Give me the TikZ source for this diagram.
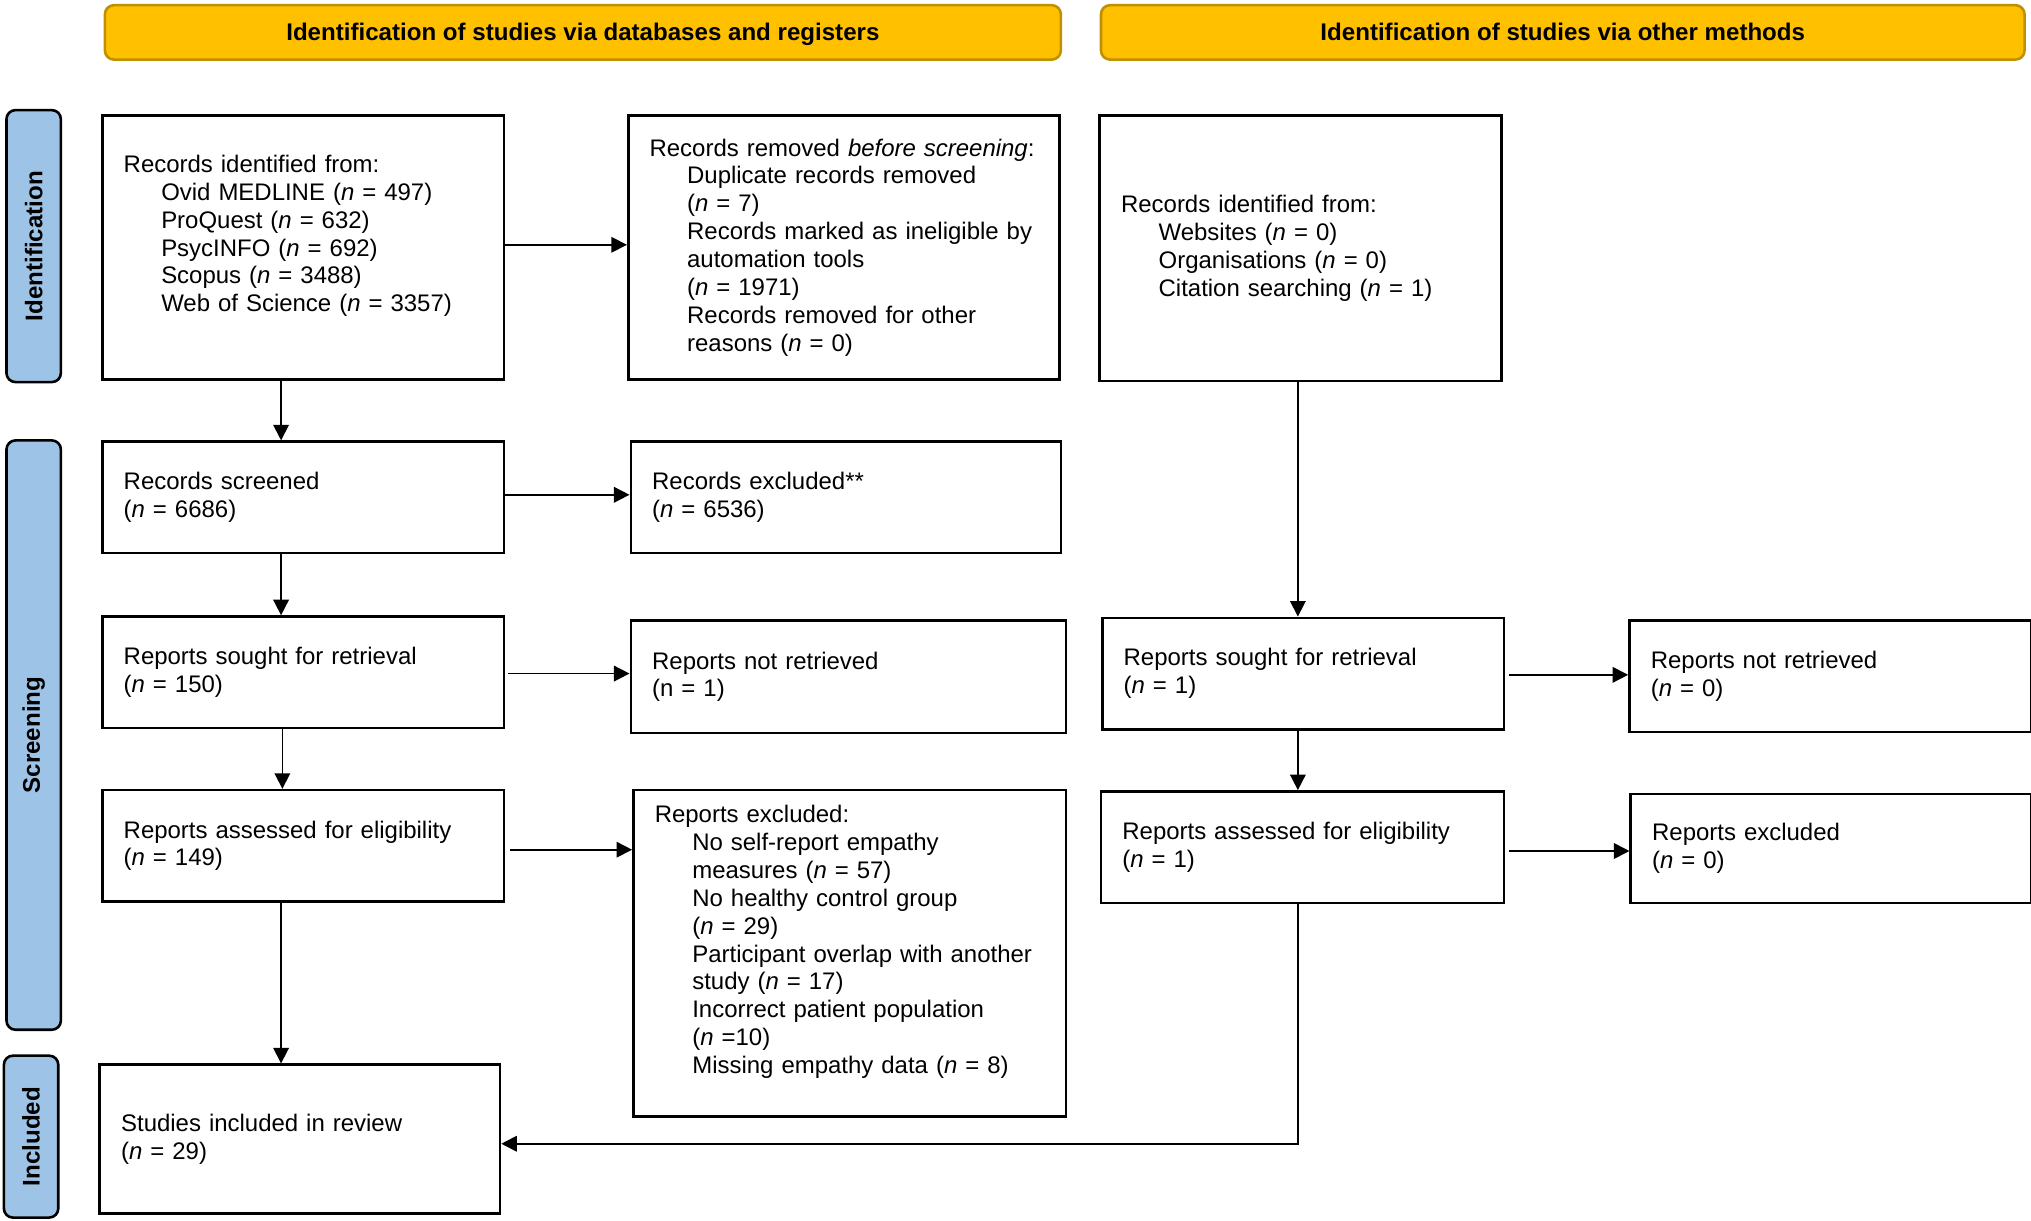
\documentclass[tikz,border=0pt]{standalone}
\usepackage{fontspec}
\setmainfont{Liberation Sans}
\usetikzlibrary{arrows.meta}
\definecolor{hdrfill}{HTML}{FFC000}
\definecolor{hdrline}{HTML}{BF9000}
\definecolor{sidefill}{HTML}{9DC3E6}
\newcommand{\ind}{\hspace*{29pt}}
\newcommand{\nn}{\textit{n}}
\tikzset{
  basefont/.style={font=\fontsize{18.5}{21.5}\selectfont},
  box/.style={basefont, draw=black, line width=2pt, fill=white, rectangle, anchor=north west,
    align=left, inner xsep=16.5pt, inner ysep=2pt},
  hdr/.style={font=\fontsize{18.6}{21.5}\selectfont\bfseries, draw=hdrline, fill=hdrfill,
    line width=2pt, rounded corners=7pt, anchor=north west, align=center, text depth=1pt},
  sidebar/.style={font=\fontsize{18.6}{21.5}\selectfont\bfseries, draw=black, fill=sidefill,
    line width=2pt, rounded corners=7pt, rotate=90, inner sep=0pt},
  arr/.style={line width=1.3pt, -{Triangle[length=12pt,width=12pt]}}
}
\begin{document}
\begin{tikzpicture}[x=1pt,y=-1pt]
\useasboundingbox (0,0) rectangle (1568,942);

% headers
\node[hdr, minimum width=738pt, minimum height=42pt] (hdrA) at (80,3)
  {Identification of studies via databases and registers};
\node[hdr, minimum width=713pt, minimum height=42pt] (hdrB) at (849,3)
  {Identification of studies via other methods};

% side bars
\node[sidebar, minimum width=210pt, minimum height=42pt] (sideI) at (26,190) {Identification};
\node[sidebar, minimum width=455pt, minimum height=42pt] (sideS) at (26,567.5) {Screening};
\node[sidebar, minimum width=125pt, minimum height=42pt] (sideN) at (24,877.5) {Included};

% left column
\node[box, minimum width=310pt, minimum height=204pt, text width=277pt] (A) at (78,88)
  {Records identified from:\\
   \ind Ovid MEDLINE (\nn{} = 497)\\
   \ind ProQuest (\nn{} = 632)\\
   \ind PsycINFO (\nn{} = 692)\\
   \ind Scopus (\nn{} = 3488)\\
   \ind Web of Science (\nn{} = 3357)\\
   \mbox{}};
\node[box, minimum width=333pt, minimum height=204pt, text width=300pt] (B) at (484,88)
  {Records removed \textit{before screening}:\\
   \ind Duplicate records removed\\
   \ind (\nn{} = 7)\\
   \ind Records marked as ineligible by\\
   \ind automation tools\\
   \ind (\nn{} = 1971)\\
   \ind Records removed for other\\
   \ind reasons (\nn{} = 0)};
\node[box, minimum width=310pt, minimum height=86pt, text width=277pt] (D) at (78,340)
  {Records screened\\(\nn{} = 6686)};
\node[box, minimum width=332pt, minimum height=86pt, text width=299pt] (E) at (486,340)
  {Records excluded**\\(\nn{} = 6536)};
\node[box, minimum width=310pt, minimum height=86pt, text width=277pt] (F) at (78,475)
  {Reports sought for retrieval\\(\nn{} = 150)};
\node[box, minimum width=336pt, minimum height=87pt, text width=303pt] (G) at (486,478)
  {Reports not retrieved\\(n = 1)};
\node[box, minimum width=310pt, minimum height=86pt, text width=277pt] (H) at (78,609)
  {Reports assessed for eligibility\\(\nn{} = 149)};
\node[box, minimum width=334pt, minimum height=252pt, text width=301pt] (I) at (488,609)
  {Reports excluded:\\
   \ind No self-report empathy\\
   \ind measures (\nn{} = 57)\\
   \ind No healthy control group\\
   \ind (\nn{} = 29)\\
   \ind Participant overlap with another\\
   \ind study (\nn{} = 17)\\
   \ind Incorrect patient population\\
   \ind (\nn{} =10)\\
   \ind Missing empathy data (\nn{} = 8)\\
   \mbox{}};
\node[box, minimum width=309pt, minimum height=115pt, text width=276pt] (N) at (76,821)
  {Studies included in review\\(\nn{} = 29)};

% right column
\node[box, minimum width=310pt, minimum height=205pt, text width=277pt] (C) at (848,88)
  {Records identified from:\\
   \ind Websites (\nn{} = 0)\\
   \ind Organisations (\nn{} = 0)\\
   \ind Citation searching (\nn{} = 1)};
\node[box, minimum width=310pt, minimum height=86pt, text width=277pt] (J) at (850,476)
  {Reports sought for retrieval\\(\nn{} = 1)};
\node[box, minimum width=310pt, minimum height=86pt, text width=277pt] (K) at (1257,478)
  {Reports not retrieved\\(\nn{} = 0)};
\node[box, minimum width=311pt, minimum height=86pt, text width=278pt] (L) at (849,610)
  {Reports assessed for eligibility\\(\nn{} = 1)};
\node[box, minimum width=309pt, minimum height=84pt, text width=276pt] (M) at (1258,612)
  {Reports excluded\\(\nn{} = 0)};

% connectors left
\draw[arr] ([yshift=2pt]A.east) -- ([yshift=2pt]A.east -| B.west);
\draw[arr] ([xshift=-17pt]A.south) -- ([xshift=-17pt]A.south |- D.north);
\draw[arr] ([yshift=2pt]D.east) -- ([yshift=2pt]D.east -| E.west);
\draw[arr] ([xshift=-17pt]D.south) -- ([xshift=-17pt]D.south |- F.north);
\draw[arr] ([xshift=2pt,yshift=-1pt]F.east) -- ([yshift=-1pt]F.east -| G.west);
\draw[arr] ([xshift=-16pt]F.south) -- ([xshift=-16pt]F.south |- H.north);
\draw[arr] ([xshift=4pt,yshift=-3pt]H.east) -- ([yshift=-3pt]H.east -| I.west);
\draw[arr] ([xshift=-17pt]H.south) -- ([xshift=-17pt]H.south |- N.north);

% connectors right
\draw[arr] ([xshift=-2pt]C.south) -- ([xshift=-2pt]C.south |- J.north);
\draw[arr] ([xshift=3pt,yshift=-1pt]J.east) -- ([yshift=-1pt]J.east -| K.west);
\draw[arr] ([xshift=-2pt]C.south |- J.south) -- ([xshift=-2pt]C.south |- L.north);
\draw[arr] ([xshift=3pt,yshift=-3pt]L.east) -- ([yshift=-3pt]L.east -| M.west);
\draw[arr] ([xshift=-2pt]C.south |- L.south) |- ([yshift=-3.5pt]N.east);
\end{tikzpicture}
\end{document}
